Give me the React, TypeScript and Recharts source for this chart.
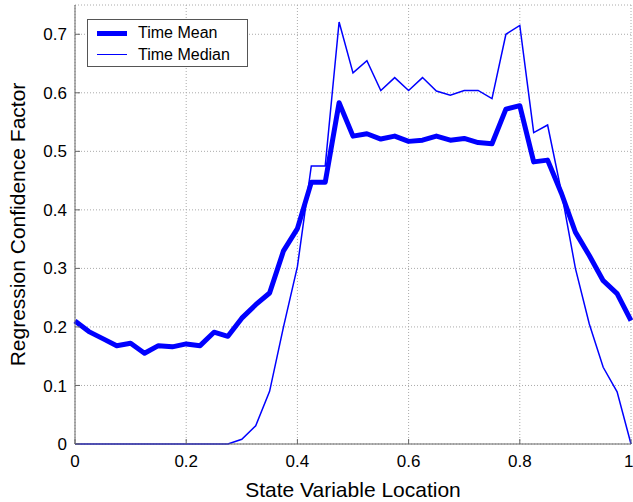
import { LineChart, Line, XAxis, YAxis, CartesianGrid } from "recharts";

const locations = [
  0, 0.025, 0.05, 0.075, 0.1, 0.125, 0.15, 0.175, 0.2, 0.225,
  0.25, 0.275, 0.3, 0.325, 0.35, 0.375, 0.4, 0.425, 0.45, 0.475,
  0.5, 0.525, 0.55, 0.575, 0.6, 0.625, 0.65, 0.675, 0.7, 0.725,
  0.75, 0.775, 0.8, 0.825, 0.85, 0.875, 0.9, 0.925, 0.95, 0.975, 1,
];

const timeMean = [
  0.21, 0.192, 0.18, 0.168, 0.172, 0.155, 0.168, 0.166, 0.171, 0.168,
  0.191, 0.184, 0.215, 0.238, 0.258, 0.33, 0.368, 0.447, 0.447, 0.583,
  0.526, 0.53, 0.521, 0.526, 0.517, 0.519, 0.526, 0.519, 0.522, 0.515,
  0.513, 0.572, 0.578, 0.482, 0.485, 0.428, 0.362, 0.322, 0.279, 0.257, 0.211,
];

const timeMedian = [
  0, 0, 0, 0, 0, 0, 0, 0, 0, 0,
  0, 0, 0.008, 0.031, 0.09, 0.2, 0.303, 0.475, 0.475, 0.721,
  0.634, 0.655, 0.604, 0.626, 0.604, 0.626, 0.603, 0.596, 0.604, 0.604,
  0.59, 0.7, 0.715, 0.532, 0.545, 0.43, 0.3, 0.205, 0.131, 0.089, 0,
];

const xTicks = [0, 0.2, 0.4, 0.6, 0.8, 1];
const yTicks = [0, 0.1, 0.2, 0.3, 0.4, 0.5, 0.6, 0.7];

const seriesNames = ["Time Mean", "Time Median"];

const data = locations.map((x, i) => ({ x, mean: timeMean[i], median: timeMedian[i] }));

const font = "'Liberation Sans', Arial, sans-serif";
const frame = "#666";

// legend drawn as an overlay so it does not shrink the plot
function LegendBox() {
  return (
    <div
      style={{
        position: "absolute",
        left: 87,
        top: 19,
        width: 161,
        height: 48,
        boxSizing: "border-box",
        border: "1px solid #555",
        background: "#fff",
        padding: "2px 0 2px 9px",
        fontFamily: font,
        fontSize: 16,
        color: "#000",
      }}
    >
      <div style={{ display: "flex", alignItems: "center", height: 22 }}>
        <div style={{ width: 30, height: 5, background: "#0000ff", marginRight: 11 }} />
        {seriesNames[0]}
      </div>
      <div style={{ display: "flex", alignItems: "center", height: 21 }}>
        <div style={{ width: 30, height: 1.5, background: "#0000ff", marginRight: 11 }} />
        {seriesNames[1]}
      </div>
    </div>
  );
}

export default function App() {
  return (
    <div style={{ position: "absolute", left: 0, top: 0, width: 633, height: 502, background: "#fff" }}>
      <LineChart width={633} height={502} data={data} margin={{ top: 5, right: 2, bottom: 0, left: 0 }}>
        <CartesianGrid stroke="#aaa" strokeDasharray="1 2" />
        <XAxis
          dataKey="x"
          type="number"
          domain={[0, 1]}
          ticks={xTicks}
          height={58}
          tickSize={-5}
          tickMargin={16}
          stroke={frame}
          tick={{ fill: "#000", fontSize: 17, fontFamily: font }}
          label={{ value: "State Variable Location", position: "insideBottom", offset: 5, fill: "#000", fontSize: 21, fontFamily: font }}
        />
        <XAxis
          xAxisId="top"
          orientation="top"
          dataKey="x"
          type="number"
          domain={[0, 1]}
          ticks={xTicks}
          height={0}
          tick={false}
          tickSize={-5}
          stroke={frame}
        />
        <YAxis
          type="number"
          domain={[0, 0.75]}
          ticks={yTicks}
          width={75}
          tickSize={-5}
          tickMargin={13}
          stroke={frame}
          tick={{ fill: "#000", fontSize: 17, fontFamily: font }}
          label={{ value: "Regression Confidence Factor", angle: -90, position: "insideLeft", offset: 18, fill: "#000", fontSize: 21, fontFamily: font, style: { textAnchor: "middle" } }}
        />
        <YAxis
          yAxisId="right"
          orientation="right"
          type="number"
          domain={[0, 0.75]}
          ticks={yTicks}
          width={0}
          tick={false}
          tickSize={-5}
          stroke={frame}
        />
        <Line name={seriesNames[0]} dataKey="mean" stroke="#0000ff" strokeWidth={5} dot={false} isAnimationActive={false} strokeLinejoin="round" />
        <Line name={seriesNames[1]} dataKey="median" stroke="#0000ff" strokeWidth={1.5} dot={false} isAnimationActive={false} />
      </LineChart>
      <LegendBox />
    </div>
  );
}
